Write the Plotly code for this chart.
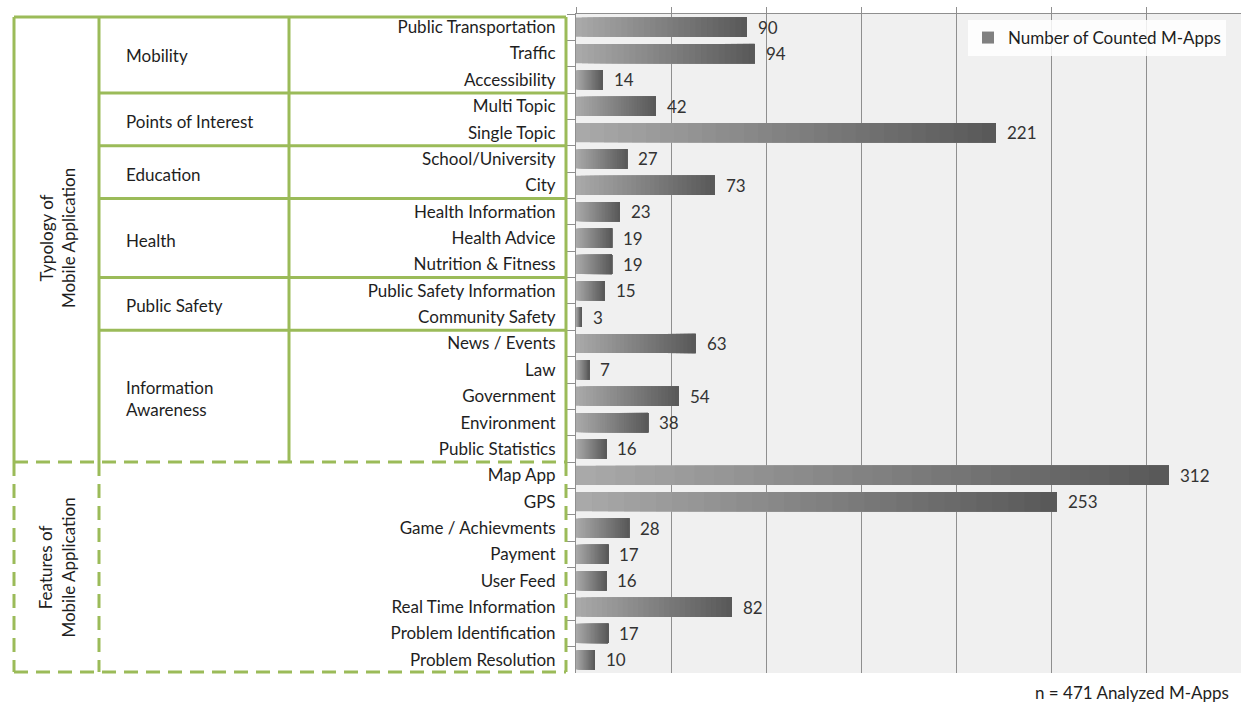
import plotly.graph_objects as go

# ---------------- data ----------------
categories = [
    "Public Transportation", "Traffic", "Accessibility",
    "Multi Topic", "Single Topic",
    "School/University", "City",
    "Health Information", "Health Advice", "Nutrition & Fitness",
    "Public Safety Information", "Community Safety",
    "News / Events", "Law", "Government", "Environment", "Public Statistics",
    "Map App", "GPS", "Game / Achievments", "Payment", "User Feed",
    "Real Time Information", "Problem Identification", "Problem Resolution",
]
values = [90, 94, 14, 42, 221, 27, 73, 23, 19, 19, 15, 3, 63, 7, 54, 38, 16,
          312, 253, 28, 17, 16, 82, 17, 10]
group_names = ["Mobility", "Points of Interest", "Education", "Health",
               "Public Safety", "Information<br>Awareness"]
group_sizes = [3, 2, 2, 3, 2, 5]
section_names = ["Typology of<br>Mobile Application",
                 "Features of<br>Mobile Application"]
section_sizes = [17, 8]
legend_name = "Number of Counted M-Apps"
footnote = "n = 471 Analyzed M-Apps"

# ---------------- style ----------------
FONT = "Lato"
GREEN = "#9bbb59"
TXT = "#1e1e1e"
N = len(categories)
SEG = 30
c_left = (170, 170, 170)
c_right = (88, 88, 88)

# pixel geometry of plot area (figure 1241 x 704)
L, R, T, B = 576, 0, 14, 31
W = 1241 - L - R
H = 704 - T - B


def xp(px):
    return (px - L) / W


def yb(k):  # boundary above row k (k = 0..N) in paper coordinates
    return 1 - k / N


def yc(pos):  # center of fractional row position
    return 1 - (pos + 0.5) / N


fig = go.Figure()

# gradient bars: each layer starts further along the bar and runs to its end
for i in range(SEG):
    t = (i + 0.5) / SEG
    col = "rgb({},{},{})".format(*[round(a + (b - a) * t) for a, b in zip(c_left, c_right)])
    fig.add_trace(go.Bar(
        y=categories,
        x=[v * (SEG - i) / SEG for v in values],
        base=[v * i / SEG for v in values],
        orientation="h",
        marker=dict(color=col, line=dict(width=0)),
        showlegend=(i == SEG // 2),
        name=legend_name,
        hoverinfo="skip",
    ))

annotations = []
# value labels
for c, v in zip(categories, values):
    annotations.append(dict(x=v, y=c, xref="x", yref="y", text=str(v),
                            showarrow=False, xanchor="left", yanchor="middle", xshift=9,
                            font=dict(family=FONT, size=17, color="#333333")))

shapes = []
line_solid = dict(color=GREEN, width=3)
line_dash = dict(color=GREEN, width=3, dash="14px,8px")
x_outer, x_c2, x_c3, x_right = xp(14), xp(99), xp(289), xp(566)
y_top = 1 - 3 / H
k_typ = section_sizes[0]

# outer frame of typology
shapes.append(dict(type="line", xref="paper", yref="paper", x0=x_outer, x1=x_right,
                   y0=y_top, y1=y_top, line=line_solid))
for xx in (x_outer, x_c2, x_c3, x_right):
    shapes.append(dict(type="line", xref="paper", yref="paper", x0=xx, x1=xx,
                       y0=y_top, y1=yb(k_typ), line=line_solid))
# group boundaries + group labels
k = 0
for name, size in zip(group_names, group_sizes):
    center = k + (size - 1) / 2
    annotations.append(dict(x=xp(124), y=yc(center), xref="paper", yref="paper",
                            text=name, showarrow=False, xanchor="left", yanchor="middle",
                            align="left", yshift=-2,
                            font=dict(family=FONT, size=17, color=TXT)))
    k += size
    if k < k_typ:
        shapes.append(dict(type="line", xref="paper", yref="paper", x0=x_c2, x1=x_right,
                           y0=yb(k), y1=yb(k), line=line_solid))

# features (dashed) frame
y_bot = yb(N) + 1 / H
shapes.append(dict(type="line", xref="paper", yref="paper", x0=x_outer, x1=x_right,
                   y0=yb(k_typ), y1=yb(k_typ), line=line_dash))
shapes.append(dict(type="line", xref="paper", yref="paper", x0=x_outer, x1=x_right,
                   y0=y_bot, y1=y_bot, line=line_dash))
for xx in (x_outer, x_c2, x_right):
    shapes.append(dict(type="line", xref="paper", yref="paper", x0=xx, x1=xx,
                       y0=yb(k_typ), y1=y_bot, line=line_dash))

# section labels (rotated)
k = 0
for name, size in zip(section_names, section_sizes):
    center = k + (size - 1) / 2
    annotations.append(dict(x=xp(57), y=yc(center), xref="paper", yref="paper",
                            text=name, showarrow=False, textangle=-90,
                            xanchor="center", yanchor="middle", align="center",
                            font=dict(family=FONT, size=17, color=TXT)))
    k += size

annotations.append(dict(x=xp(1231), y=-19 / H, xref="paper", yref="paper",
                        text=footnote, showarrow=False, xanchor="right", yanchor="middle",
                        font=dict(family=FONT, size=17, color=TXT)))

fig.update_layout(
    width=1241, height=704,
    margin=dict(l=L, r=R, t=T, b=B, pad=0),
    barmode="overlay",
    bargap=0.27,
    paper_bgcolor="white",
    plot_bgcolor="#f0f0f0",
    font=dict(family=FONT, size=16, color=TXT),
    xaxis=dict(range=[0, 350], dtick=50, side="top", showticklabels=False,
               showgrid=True, gridcolor="#8f8f8f", gridwidth=1,
               ticks="outside", ticklen=6, tickcolor="#8f8f8f",
               showline=True, linecolor="#8f8f8f", linewidth=1, zeroline=False,
               fixedrange=True),
    yaxis=dict(autorange="reversed", categoryorder="array", categoryarray=categories,
               ticks="outside", ticklen=8, tickcolor="#8f8f8f", tickson="boundaries",
               showline=True, linecolor="#8f8f8f", linewidth=1,
               ticklabelstandoff=16,
               tickfont=dict(family=FONT, size=17, color=TXT), fixedrange=True),
    legend=dict(x=xp(968), y=1 - 6 / H, xanchor="left", yanchor="top",
                bgcolor="rgba(255,255,255,0.85)", borderwidth=0,
                font=dict(family=FONT, size=17, color=TXT)),
    shapes=shapes,
    annotations=annotations,
)

fig.write_html("out.html", config={"displayModeBar": False},
               post_script="document.body.style.margin='0';")
